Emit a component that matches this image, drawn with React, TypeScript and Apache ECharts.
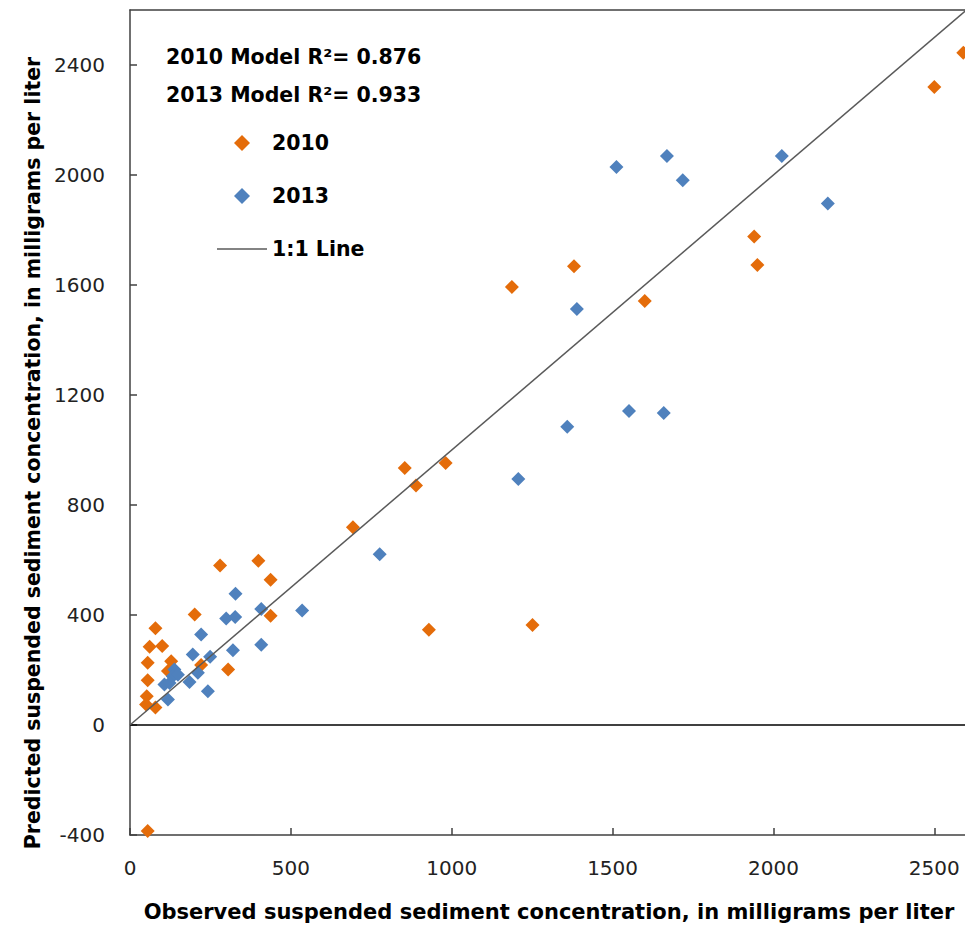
import React, { useEffect, useRef } from "react";
import * as echarts from "echarts";

// 2010 model: observed vs predicted (mg/L)
const obs2010 = [2590, 2500, 1940, 1950, 1380, 1187, 1600, 854, 981, 889, 693, 399, 280, 437, 437, 929, 1251, 201, 79, 61, 100, 55, 128, 118, 221, 305, 55, 52, 50, 79, 55];
const pred2010 = [2445, 2320, 1776, 1673, 1668, 1593, 1542, 935, 953, 871, 719, 597, 580, 528, 397, 346, 364, 402, 352, 285, 287, 226, 232, 196, 218, 202, 163, 105, 75, 64, -385];

// 2013 model: observed vs predicted (mg/L)
const obs2013 = [1512, 1669, 1718, 2026, 2169, 1389, 1551, 1659, 1359, 1207, 776, 328, 408, 535, 299, 327, 221, 408, 320, 195, 249, 138, 133, 149, 107, 123, 185, 211, 242, 118];
const pred2013 = [2029, 2069, 1981, 2069, 1896, 1513, 1142, 1135, 1085, 895, 621, 477, 422, 416, 387, 393, 329, 292, 272, 256, 248, 202, 177, 183, 147, 153, 156, 190, 123, 93];

const oneToOneX = [0, 2600];
const oneToOneY = [0, 2600];
const zeroLineX = [0, 2600];
const zeroLineY = [0, 0];

const xMin = 0;
const xMax = 2600;
const xInterval = 500;
const yMin = -400;
const yMax = 2600;
const yInterval = 400;

const seriesNames = ["2010", "2013", "1:1 Line"];
const r2Labels = ["2010 Model R\u00B2= 0.876", "2013 Model R\u00B2= 0.933"];
const xTitle = "Observed suspended sediment concentration, in milligrams per liter";
const yTitle = "Predicted suspended sediment concentration, in milligrams per liter";

const zip = (a: number[], b: number[]) => a.map((v, i) => [v, b[i]]);

const DIAMOND_ICON = "path://M1,0L2,1L1,2L0,1Z";
const LINE_ICON = "path://M0,0L50,0L50,1.5L0,1.5Z";

export default function App() {
  const ref = useRef<HTMLDivElement>(null);
  useEffect(() => {
    if (!ref.current) return;
    const chart = echarts.init(ref.current, null, { renderer: "svg" });
    const font = "'DejaVu Sans', 'Open Sans', sans-serif";
    const orange = "#E46C0A";
    const blue = "#4F81BD";
    const lineGray = "#5a5a5a";
    const boldSize = 20.5;
    chart.setOption({
      animation: false,
      backgroundColor: "#ffffff",
      grid: { left: 130, right: 1.5, top: 10, bottom: 92 },
      legend: {
        data: [
          { name: seriesNames[0], icon: DIAMOND_ICON, itemStyle: { color: orange } },
          { name: seriesNames[1], icon: DIAMOND_ICON, itemStyle: { color: blue } },
          { name: seriesNames[2], icon: LINE_ICON, itemStyle: { color: lineGray } },
        ],
        orient: "vertical",
        left: 212,
        top: 127,
        itemWidth: 50,
        itemHeight: 16,
        itemGap: 31,
        symbolKeepAspect: true,
        textStyle: { fontFamily: font, fontWeight: "bold", fontSize: boldSize, color: "#000", lineHeight: 22 },
      },
      xAxis: [
        {
          type: "value",
          min: xMin,
          max: xMax,
          interval: xInterval,
          axisLine: { show: true, onZero: false, lineStyle: { color: "#404040", width: 1.5 } },
          axisTick: { show: true, inside: true, length: 7, lineStyle: { color: "#404040", width: 1.5 } },
          axisLabel: {
            margin: 23,
            showMaxLabel: false,
            fontFamily: font,
            fontSize: 20,
            color: "#222",
            formatter: (v: number) => String(v),
          },
          splitLine: { show: false },
        },
        {
          type: "value",
          position: "top",
          min: xMin,
          max: xMax,
          axisLine: { show: true, onZero: false, lineStyle: { color: "#404040", width: 1.5 } },
          axisTick: { show: false },
          axisLabel: { show: false },
          splitLine: { show: false },
        },
      ],
      yAxis: {
        type: "value",
        min: yMin,
        max: yMax,
        interval: yInterval,
        axisLine: { show: true, onZero: false, lineStyle: { color: "#404040", width: 1.5 } },
        axisTick: { show: true, inside: true, length: 7, lineStyle: { color: "#404040", width: 1.5 } },
        axisLabel: {
          margin: 25,
          showMaxLabel: false,
          fontFamily: font,
          fontSize: 20,
          color: "#222",
          formatter: (v: number) => String(v),
        },
        splitLine: { show: false },
      },
      graphic: [
        {
          type: "text",
          left: 166,
          top: 46,
          style: { text: r2Labels[0], fontFamily: font, fontWeight: "bold", fontSize: boldSize, fill: "#000" },
        },
        {
          type: "text",
          left: 166,
          top: 84,
          style: { text: r2Labels[1], fontFamily: font, fontWeight: "bold", fontSize: boldSize, fill: "#000" },
        },
        {
          type: "text",
          x: 549,
          y: 912,
          style: {
            text: xTitle,
            fontFamily: font,
            fontWeight: "bold",
            fontSize: 21,
            fill: "#000",
            align: "center",
            verticalAlign: "middle",
          },
        },
        {
          type: "text",
          x: 33,
          y: 453,
          rotation: Math.PI / 2,
          style: {
            text: yTitle,
            fontFamily: font,
            fontWeight: "bold",
            fontSize: boldSize,
            fill: "#000",
            align: "center",
            verticalAlign: "middle",
          },
        },
      ],
      series: [
        {
          name: seriesNames[0],
          type: "scatter",
          symbol: "diamond",
          symbolSize: 14,
          itemStyle: { color: orange, opacity: 1 },
          data: zip(obs2010, pred2010),
          z: 3,
        },
        {
          name: seriesNames[1],
          type: "scatter",
          symbol: "diamond",
          symbolSize: 14,
          itemStyle: { color: blue, opacity: 1 },
          data: zip(obs2013, pred2013),
          z: 3,
        },
        {
          name: seriesNames[2],
          type: "line",
          showSymbol: false,
          symbol: "none",
          lineStyle: { color: lineGray, width: 1.5 },
          itemStyle: { color: lineGray },
          data: zip(oneToOneX, oneToOneY),
          z: 4,
        },
        {
          name: "zero",
          type: "line",
          showSymbol: false,
          symbol: "none",
          lineStyle: { color: "#000", width: 1.5 },
          data: zip(zeroLineX, zeroLineY),
          z: 2,
        },
      ],
    });
    return () => chart.dispose();
  }, []);
  return (
    <div style={{ position: "fixed", left: 0, top: 0, width: 965, height: 927, overflow: "hidden", background: "#fff" }}>
      <div ref={ref} style={{ width: 968, height: 927 }} />
    </div>
  );
}
